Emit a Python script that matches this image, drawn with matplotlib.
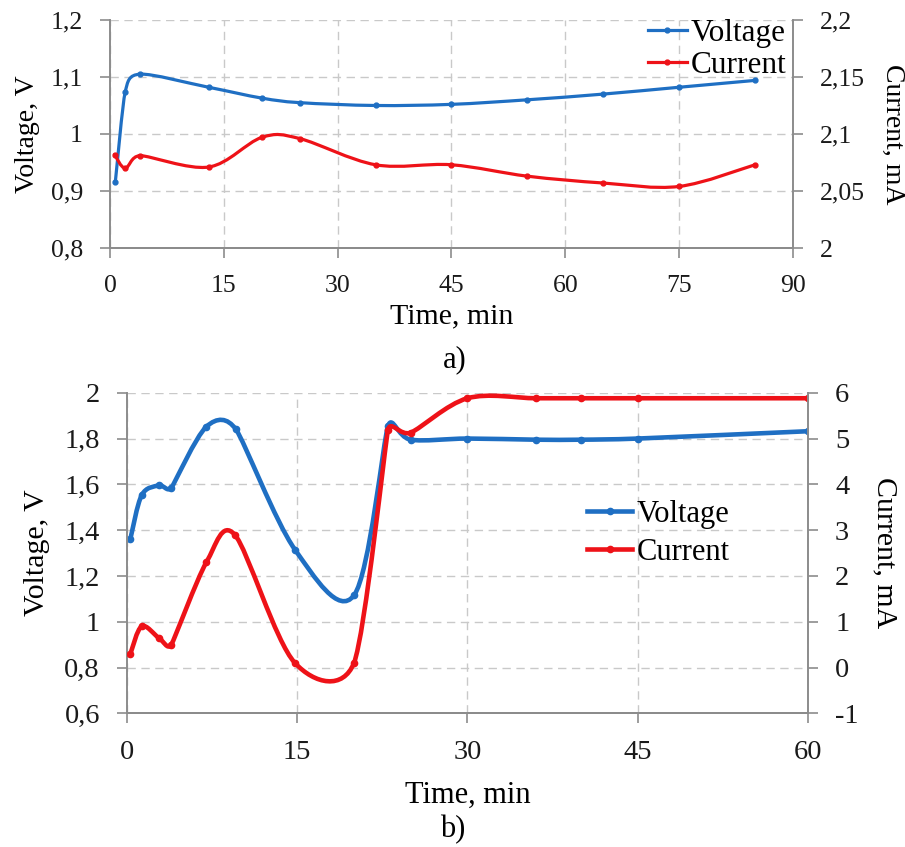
import numpy as np
import matplotlib
matplotlib.use("Agg")
import matplotlib.pyplot as plt
from matplotlib.path import Path
from matplotlib.patches import PathPatch
from matplotlib.lines import Line2D
from matplotlib.ticker import FuncFormatter

plt.rcParams.update({"font.family": "Liberation Serif"})

# a) data
time_a_v = [0.7, 2, 4, 13, 20, 25, 35, 45, 55, 65, 75, 85]
volt_a = [0.915, 1.073, 1.105, 1.082, 1.063, 1.055, 1.05, 1.052, 1.06, 1.07, 1.082, 1.094]
time_a_i = [0.6, 2, 4, 13, 20, 25, 35, 45, 55, 65, 75, 85]
curr_a = [2.082, 2.07, 2.081, 2.071, 2.097, 2.096, 2.073, 2.073, 2.063, 2.057, 2.054, 2.073]

# b) data
time_b_v = [0.3, 1.3, 2.8, 3.9, 7, 9.6, 14.8, 20, 23, 25, 30, 36, 40, 45, 60]
volt_b = [1.362, 1.553, 1.595, 1.585, 1.852, 1.84, 1.315, 1.115, 1.855, 1.795,
          1.8, 1.795, 1.795, 1.8, 1.832]
time_b_i = [0.3, 1.3, 2.8, 3.9, 7, 9.5, 14.8, 20, 23, 25, 30, 36, 40, 45, 60]
curr_b = [0.3, 0.9, 0.65, 0.5, 2.3, 2.9, 0.1, 0.1, 5.19, 5.13, 5.88, 5.88, 5.88, 5.88, 5.88]

BLUE = "#1f6fc3"
RED = "#ee1218"
GRID = "#c9c9c9"
SPINE = "#8c8c8c"


def smooth_path(ax, x, y):
    # Excel-like smoothed line, bezier arms worked out in screen space
    pts = ax.transData.transform(np.column_stack([x, y]).astype(float))
    n = len(pts)
    arms = []
    for i in range(n):
        a = pts[max(i - 1, 0)]
        b = pts[min(i + 1, n - 1)]
        t = b - a
        d02 = np.hypot(*t)
        lens = [d02 / 6]
        if i > 0:
            lens.append(np.hypot(*(pts[i] - pts[i - 1])) / 2)
        if i < n - 1:
            lens.append(np.hypot(*(pts[i + 1] - pts[i])) / 2)
        arms.append(t / d02 * min(lens) if d02 > 0 else np.zeros(2))
    verts = [pts[0]]
    codes = [Path.MOVETO]
    for i in range(n - 1):
        verts += [pts[i] + arms[i], pts[i + 1] - arms[i + 1], pts[i + 1]]
        codes += [Path.CURVE4] * 3
    verts = ax.transData.inverted().transform(np.array(verts))
    return Path(verts, codes)


def comma(v, pos):
    s = f"{v:.2f}".rstrip("0").rstrip(".")
    return s.replace(".", ",")


def draw_series(ax, x, y, color, lw, ms):
    ax.add_patch(PathPatch(smooth_path(ax, x, y), fill=False, edgecolor=color,
                           lw=lw, capstyle="round", joinstyle="round"))
    ax.plot(x, y, "o", color=color, ms=ms, mec=color)


def style_axes(ax, axr, fs):
    for a in (ax, axr):
        for s in a.spines.values():
            s.set_color(SPINE)
            s.set_linewidth(1.4)
        a.spines["top"].set_visible(False)
        a.tick_params(direction="out", length=7.5, width=1.2, color=SPINE,
                      labelsize=fs, labelcolor="#1a1a1a")
        a.tick_params(axis="y", pad=12)
        a.tick_params(axis="x", pad=12)
    ax.spines["right"].set_visible(False)
    axr.spines["left"].set_visible(False)
    ax.grid(True, color=GRID, ls=(0, (6, 4)), lw=1.0)
    ax.set_axisbelow(True)


fig = plt.figure(figsize=(9.05, 8.47), dpi=100)

# ---- a) ----
ax1 = fig.add_axes([0.1215, 0.7072, 0.7547, 0.2692])
ax1r = ax1.twinx()
ax1.set_xlim(0, 90)
ax1.set_ylim(0.8, 1.2)
ax1r.set_ylim(2.0, 2.2)
ax1.set_xticks(np.arange(0, 91, 15))
ax1.set_yticks(np.arange(0.8, 1.21, 0.1))
ax1r.set_yticks(np.arange(2.0, 2.21, 0.05))
ax1.yaxis.set_major_formatter(FuncFormatter(comma))
ax1r.yaxis.set_major_formatter(FuncFormatter(comma))
style_axes(ax1, ax1r, 18.5)
draw_series(ax1, time_a_v, volt_a, BLUE, 2.3, 3.5)
draw_series(ax1r, time_a_i, curr_a, RED, 2.3, 3.5)
ax1.set_xlabel("Time, min", fontsize=21.5)
ax1.xaxis.set_label_coords(0.5, -0.245)
ax1.set_ylabel("Voltage, V", fontsize=20)
ax1.yaxis.set_label_coords(-0.1025, 0.5)
ax1r.set_ylabel("Current, mA", fontsize=20, rotation=-90, va="center")
ax1r.yaxis.set_label_coords(1.146, 0.5)
h1 = [Line2D([], [], color=BLUE, lw=2.3, marker="o", ms=3.5),
      Line2D([], [], color=RED, lw=2.3, marker="o", ms=3.5)]
ax1r.legend(h1, ["Voltage", "Current"], loc="upper right", frameon=False,
            bbox_to_anchor=(0.99, 1.005), borderpad=0, borderaxespad=0,
            fontsize=22.5, handlelength=1.25, handletextpad=0.12,
            labelspacing=0.1, numpoints=1)
fig.text(0.503, 0.575, "a)", fontsize=22, ha="center", va="center")

# ---- b) ----
ax2 = fig.add_axes([0.1403, 0.1578, 0.7525, 0.3785])
ax2r = ax2.twinx()
ax2.set_xlim(0, 60)
ax2.set_ylim(0.6, 2.0)
ax2r.set_ylim(-1, 6)
ax2.set_xticks(np.arange(0, 61, 15))
ax2.set_yticks(np.arange(0.6, 2.01, 0.2))
ax2r.set_yticks(np.arange(-1, 7, 1))
ax2.yaxis.set_major_formatter(FuncFormatter(comma))
ax2r.yaxis.set_major_formatter(FuncFormatter(lambda v, p: f"{int(round(v))}"))
style_axes(ax2, ax2r, 20.5)
draw_series(ax2, time_b_v, volt_b, BLUE, 3.3, 4.5)
draw_series(ax2r, time_b_i, curr_b, RED, 3.3, 4.5)
ax2.set_xlabel("Time, min", fontsize=22)
ax2.xaxis.set_label_coords(0.5, -0.211)
ax2.set_ylabel("Voltage, V", fontsize=21.5)
ax2.yaxis.set_label_coords(-0.113, 0.5)
ax2r.set_ylabel("Current, mA", fontsize=21.5, rotation=-90, va="center")
ax2r.yaxis.set_label_coords(1.113, 0.5)
h2 = [Line2D([], [], color=BLUE, lw=3.3, marker="o", ms=4.5),
      Line2D([], [], color=RED, lw=3.3, marker="o", ms=4.5)]
ax2r.legend(h2, ["Voltage", "Current"], loc="upper left", frameon=False,
            bbox_to_anchor=(0.675, 0.666), borderpad=0, borderaxespad=0,
            fontsize=22, handlelength=1.5, handletextpad=0.15,
            labelspacing=0.3, numpoints=1)
fig.text(0.5, 0.02, "b)", fontsize=22, ha="center", va="center")

fig.savefig("out.png", dpi=100)
